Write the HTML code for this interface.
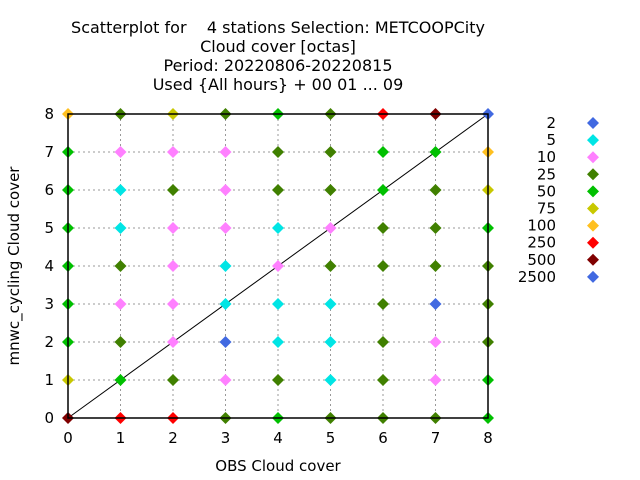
<!DOCTYPE html>
<html><head><meta charset="utf-8"><style>
body{margin:0;background:#fff}
svg{display:block;font-family:"DejaVu Sans","Liberation Sans",sans-serif}
</style></head><body>
<svg id="chart" width="640" height="480">
<g font-size="16" text-anchor="middle" fill="#000">
<text x="278" y="33" xml:space="preserve">Scatterplot for    4 stations Selection: METCOOPCity</text>
<text x="278" y="52">Cloud cover [octas]</text>
<text x="278" y="71">Period: 20220806-20220815</text>
<text x="278" y="90">Used {All hours} + 00 01 ... 09</text>
</g>
<g id="grid"></g>
<g id="ticks" font-size="15"></g>
<line id="diag" stroke="#000" stroke-width="1"/>
<g id="points"></g>
<rect x="68" y="114" width="420" height="304" fill="none" stroke="#000" stroke-width="1.5"/>
<text x="278" y="471" font-size="15" text-anchor="middle">OBS Cloud cover</text>
<text transform="translate(19,266) rotate(-90)" font-size="15" text-anchor="middle">mnwc_cycling Cloud cover</text>
<g id="legend" font-size="15"></g>
</svg>
<script>
const ticks=[0,1,2,3,4,5,6,7,8];
const classLabels=["2","5","10","25","50","75","100","250","500","2500"];
const classColors=["#4169e1","#00e5e5","#ff80ff","#408000","#00c000","#c8c800","#ffc020","#ff0000","#800000","#4169e1"];
// counts class per cell: rows y=0..8, columns x=0..8
const row0=[500,250,250,25,50,25,25,25,50];
const row1=[75,50,25,10,25,5,25,10,50];
const row2=[50,25,10,2,5,5,25,10,25];
const row3=[50,10,10,5,5,5,25,2,25];
const row4=[50,25,10,5,10,25,25,25,25];
const row5=[50,5,10,10,5,10,25,25,50];
const row6=[50,5,25,10,25,25,50,25,75];
const row7=[50,10,10,10,25,25,50,50,100];
const row8=[100,25,75,25,50,25,250,500,2];
const rows=[row0,row1,row2,row3,row4,row5,row6,row7,row8];
const NS="http://www.w3.org/2000/svg";
const X=v=>68+v*52.5, Y=v=>418-v*38;
const grid=document.getElementById('grid'),tk=document.getElementById('ticks');
ticks.forEach(t=>{
 let l=document.createElementNS(NS,'line');
 
 
 l.setAttribute('x1',X(t));l.setAttribute('x2',X(t));l.setAttribute('y1',114);l.setAttribute('y2',418);
 l.setAttribute('stroke','#999');l.setAttribute('stroke-dasharray','2,3');grid.appendChild(l);
 l=document.createElementNS(NS,'line');
 
 
 l.setAttribute('y1',Y(t));l.setAttribute('y2',Y(t));l.setAttribute('x1',68);l.setAttribute('x2',488);
 l.setAttribute('stroke','#999');l.setAttribute('stroke-dasharray','2,3');grid.appendChild(l);
 let s=document.createElementNS(NS,'text');
 
 
 s.setAttribute('x',X(t));s.setAttribute('y',443);s.setAttribute('text-anchor','middle');s.textContent=t;tk.appendChild(s);
 s=document.createElementNS(NS,'text');
 
 
 s.setAttribute('x',54);s.setAttribute('y',Y(t)+5);s.setAttribute('text-anchor','end');s.textContent=t;tk.appendChild(s);
});
const d=document.getElementById('diag');
d.setAttribute('x1',X(0));d.setAttribute('y1',Y(0));d.setAttribute('x2',X(8));d.setAttribute('y2',Y(8));
function diamond(cx,cy,c){
 const p=document.createElementNS(NS,'polygon');
 p.setAttribute('points',`${cx},${cy-6} ${cx+6},${cy} ${cx},${cy+6} ${cx-6},${cy}`);
 p.setAttribute('fill',c);return p;
}
const pts=document.getElementById('points');
rows.forEach((r,yi)=>r.forEach((v,xi)=>{
 const idx=classLabels.indexOf(String(v));
 const p=diamond(X(xi),Y(yi),classColors[idx]);
 
 
 pts.appendChild(p);
}));
const lg=document.getElementById('legend');
classLabels.forEach((lab,i)=>{
 const y=123+i*17.1;
 const t=document.createElementNS(NS,'text');
 
 
 t.setAttribute('x',556);t.setAttribute('y',y+5);t.setAttribute('text-anchor','end');t.textContent=lab;lg.appendChild(t);
 const p=diamond(593,y,classColors[i]);
 
 
 lg.appendChild(p);
});
</script>
</body></html>
